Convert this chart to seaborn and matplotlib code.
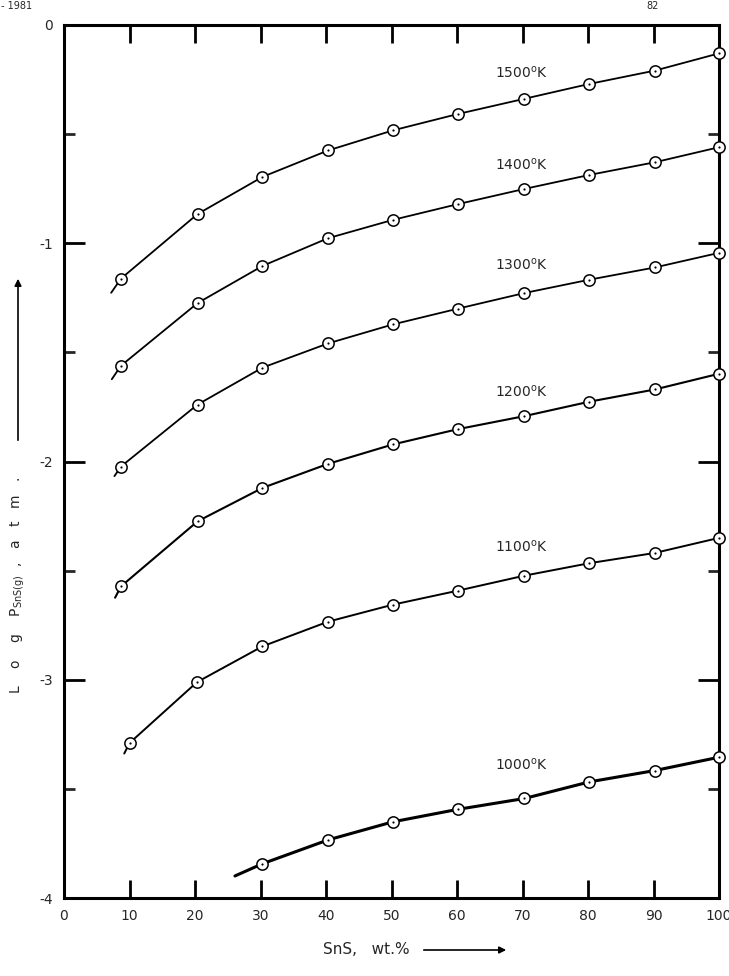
import matplotlib
matplotlib.use("Agg")
import matplotlib.pyplot as plt
from matplotlib.ticker import MultipleLocator
import seaborn as sns
import pandas as pd

# SnS wt.% of the measured points
x_main = [8.7, 20.4, 30.3, 40.3, 50.2, 60.1, 70.3, 80.2, 90.2, 100]
x_1100 = [10.0, 20.3, 30.3, 40.3, 50.2, 60.1, 70.3, 80.2, 90.2, 100]
x_1000 = [30.3, 40.3, 50.2, 60.1, 70.3, 80.2, 90.2, 100]

# log p SnS(g), atm
y_1500 = [-1.162, -0.866, -0.696, -0.575, -0.483, -0.408, -0.338, -0.270, -0.209, -0.130]
y_1400 = [-1.561, -1.274, -1.104, -0.977, -0.893, -0.821, -0.751, -0.687, -0.629, -0.560]
y_1300 = [-2.023, -1.739, -1.570, -1.459, -1.372, -1.300, -1.228, -1.167, -1.111, -1.044]
y_1200 = [-2.572, -2.274, -2.121, -2.011, -1.922, -1.852, -1.792, -1.726, -1.670, -1.598]
y_1100 = [-3.290, -3.011, -2.847, -2.734, -2.656, -2.592, -2.523, -2.466, -2.419, -2.350]
y_1000 = [-3.843, -3.734, -3.651, -3.594, -3.544, -3.468, -3.416, -3.355]

# where each drawn curve begins (left of the first point)
start_x = [7.2, 7.3, 7.7, 7.8, 9.2, 26.1]
start_y = [-1.227, -1.623, -2.067, -2.624, -3.338, -3.899]

labels = ["1500$^{\\rm o}$K", "1400$^{\\rm o}$K", "1300$^{\\rm o}$K",
          "1200$^{\\rm o}$K", "1100$^{\\rm o}$K", "1000$^{\\rm o}$K"]
label_y = [-0.22, -0.641, -1.10, -1.682, -2.392, -3.39]
label_x = 65.8

series_x = [x_main, x_main, x_main, x_main, x_1100, x_1000]
series_y = [y_1500, y_1400, y_1300, y_1200, y_1100, y_1000]
widths = [1.3, 1.3, 1.3, 1.5, 1.4, 2.2]

sns.set_style("ticks")
plt.rcParams['font.family'] = ['DejaVu Sans']

fig = plt.figure(figsize=(7.29, 9.76), dpi=100)
ax = fig.add_axes([64 / 729, 1 - 898 / 976, 655 / 729, 873 / 976])

for i in range(6):
    df = pd.DataFrame({'x': [start_x[i]] + series_x[i], 'y': [start_y[i]] + series_y[i]})
    sns.lineplot(data=df, x='x', y='y', color='black', lw=widths[i], ax=ax,
                 sort=False, estimator=None, zorder=2)
    pts = pd.DataFrame({'x': series_x[i], 'y': series_y[i]})
    sns.scatterplot(data=pts, x='x', y='y', marker='o', s=66, facecolor='white',
                    edgecolor='black', linewidth=1.1, ax=ax, zorder=3, clip_on=False)
    sns.scatterplot(data=pts, x='x', y='y', marker='o', s=2.5, color='black',
                    linewidth=0, ax=ax, zorder=4, clip_on=False)
    ax.text(label_x, label_y[i], labels[i], fontsize=10, ha='left', va='center')

ax.set_xlim(0, 100)
ax.set_ylim(-4, 0)
ax.xaxis.set_major_locator(MultipleLocator(10))
ax.yaxis.set_minor_locator(MultipleLocator(0.5))
ax.set_yticks([-4, -3, -2, -1, 0])
ax.set_yticklabels(['-4', '-3', '-2', '-1', '0'])

ax.tick_params(axis='both', which='major', direction='in', width=2, length=15,
               top=True, right=True, labelsize=10, color='black', pad=8)
ax.tick_params(axis='y', which='minor', direction='in', width=2, length=8,
               left=True, right=True)
ax.tick_params(axis='x', which='major', length=13)
for s in ax.spines.values():
    s.set_linewidth(2.2)
    s.set_color('black')
ax.set_xlabel('')
ax.set_ylabel('')

# axis captions with arrows, as on the original sheet
fig.text(323 / 729, 1 - 950 / 976, "SnS,   wt.%", fontsize=11, ha='left', va='center')
fig.add_artist(matplotlib.patches.FancyArrowPatch(
    (421 / 729, 1 - 950 / 976), (509 / 729, 1 - 950 / 976),
    transform=fig.transFigure, arrowstyle='-|>', mutation_scale=10, lw=1.2, color='black'))
fig.text(18 / 729, 1 - 585 / 976,
         "L    o    g    P$_{\\rm SnS(g)}$  ,   a   t   m   .", fontsize=10,
         rotation=90, ha='center', va='center')
fig.add_artist(matplotlib.patches.FancyArrowPatch(
    (18 / 729, 1 - 443 / 976), (18 / 729, 1 - 276 / 976),
    transform=fig.transFigure, arrowstyle='-|>', mutation_scale=10, lw=1.2, color='black'))

# page header at the top edge
fig.text(0.002, 0.999, "- 1981", fontsize=7, ha='left', va='top')
fig.text(646 / 729, 0.999, "82", fontsize=7, ha='left', va='top')

fig.savefig("out.png", dpi=100)
